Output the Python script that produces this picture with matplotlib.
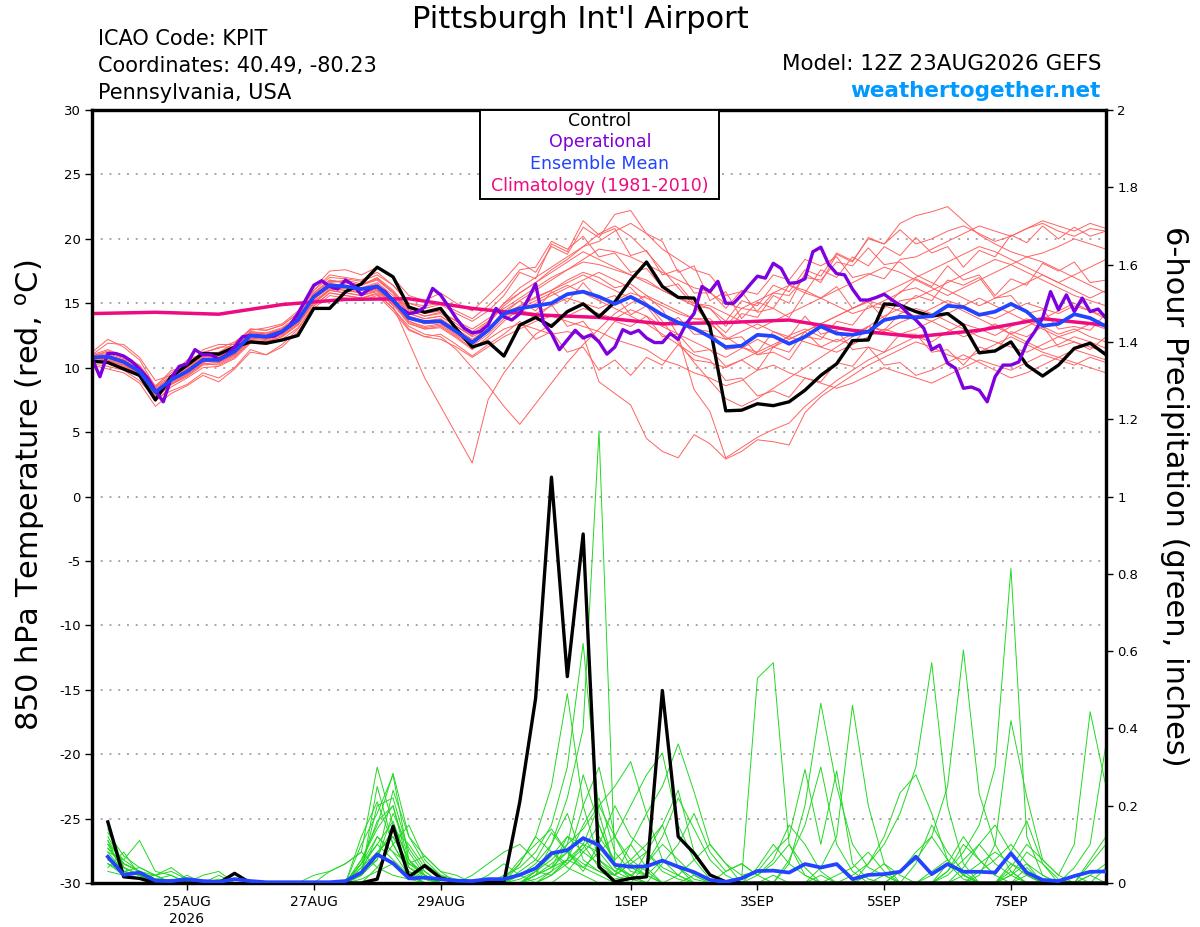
import matplotlib
matplotlib.use("Agg")
import matplotlib.pyplot as plt
from matplotlib.patches import Rectangle

# ---------------- data ----------------
# forecast hours from 12Z 23AUG2026 (6-hourly temperatures, 3-hourly operational)
tick_hours = [36, 84, 132, 204, 252, 300, 348]
tick_labels = ["25AUG\n2026", "27AUG", "29AUG", "1SEP", "3SEP", "5SEP", "7SEP"]

temp_ticks = [-30, -25, -20, -15, -10, -5, 0, 5, 10, 15, 20, 25, 30]
precip_ticks = [0, 0.2, 0.4, 0.6, 0.8, 1.0, 1.2, 1.4, 1.6, 1.8, 2.0]
precip_tick_labels = ["0", "0.2", "0.4", "0.6", "0.8", "1", "1.2", "1.4", "1.6", "1.8", "2"]

control_temp = [
    10.5, 10.4, 9.9, 9.4, 7.5, 9.3, 10.2, 11.1, 11.05, 11.6, 12.0, 11.9, 12.15,
    12.5, 14.6, 14.6, 15.9, 16.5, 17.8, 17.05, 14.7, 14.3, 14.6, 13.0, 11.6, 12.0,
    10.9, 13.3, 13.9, 13.2, 14.35, 14.95, 13.95, 15.1, 16.8, 18.2, 16.3, 15.45, 15.4,
    13.2, 6.65, 6.7, 7.2, 7.05, 7.35, 8.25, 9.4, 10.3, 12.1, 12.15, 14.95, 14.85,
    14.35, 14.0, 14.2, 13.3, 11.15, 11.3, 12.0, 10.2, 9.35, 10.2, 11.5, 11.9, 11.0]

mean_temp = [
    10.8, 10.85, 10.45, 9.7, 8.1, 9.05, 9.7, 10.6, 10.6, 11.25, 12.5, 12.4, 12.8,
    13.7, 15.5, 16.4, 16.3, 16.1, 16.3, 15.25, 13.85, 13.55, 13.6, 12.8, 11.95, 12.9,
    14.2, 14.6, 14.8, 15.0, 15.7, 15.9, 15.5, 14.95, 15.5, 14.85, 14.1, 13.5, 13.05,
    12.4, 11.6, 11.7, 12.55, 12.45, 11.85, 12.4, 13.2, 12.65, 12.55, 12.8, 13.7, 13.95,
    13.9, 14.0, 14.8, 14.7, 14.1, 14.35, 14.95, 14.35, 13.25, 13.4, 14.15, 13.85, 13.2]

operational_temp = [
    10.7, 9.3, 11.1, 11.1, 10.9, 10.5, 9.9, 9.2, 8.2, 7.35, 9.2, 10.1, 10.3, 11.4, 11.0, 11.0,
    10.65, 11.0, 11.6, 12.4, 12.5, 12.45, 12.4, 12.45, 12.8, 13.3, 14.2, 15.3, 16.4, 16.75, 16.3, 16.1,
    16.8, 16.4, 15.65, 16.1, 16.3, 15.9, 15.2, 14.6, 14.2, 14.3, 14.7, 16.15, 15.65, 14.75, 13.8, 13.05,
    12.7, 12.8, 13.3, 14.6, 13.95, 13.7, 14.2, 15.25, 16.5, 13.45, 12.65, 11.4, 12.15, 12.9, 12.3, 12.55,
    12.0, 11.05, 11.6, 12.95, 12.65, 12.9, 12.3, 11.95, 11.95, 12.65, 12.2, 13.4, 14.2, 16.3, 15.9, 16.7,
    15.0, 15.0, 15.65, 16.4, 17.1, 16.95, 18.1, 17.7, 16.55, 16.6, 16.9, 19.0, 19.35, 18.0, 17.3, 17.2,
    16.1, 15.25, 15.25, 15.45, 15.7, 15.25, 14.85, 14.2, 13.7, 13.05, 11.4, 11.75, 10.35, 9.95, 8.4, 8.5,
    8.25, 7.35, 9.3, 10.2, 10.2, 10.45, 11.9, 12.8, 13.85, 15.9, 14.5, 15.65, 14.35, 15.4, 14.35, 14.55,
    13.85]

# daily climatology (1981-2010), one value per day at 12Z
climatology_temp = [14.2, 14.3, 14.15, 14.9, 15.3, 15.35, 14.6, 14.1, 13.9,
                    13.4, 13.5, 13.7, 12.9, 12.4, 12.9, 13.8, 13.3]

temp_members = [
    [10.9, 11.3, 10.9, 10.2, 8.6, 9.6, 10.4, 11.2, 11.5, 12.0, 12.9, 13.1, 13.4,
     14.4, 16.2, 17.5, 17.6, 17.2, 17.8, 17.0, 15.6, 15.2, 15.8, 15.0, 14.4, 15.6,
     16.8, 18.2, 17.4, 19.4, 18.8, 20.9, 20.1, 21.9, 22.2, 20.4, 19.8, 17.4, 17.9,
     15.2, 15.9, 13.8, 15.1, 14.6, 16.4, 15.8, 17.6, 17.0, 18.6, 17.9, 19.4, 18.7,
     20.1, 18.9, 19.4, 17.8, 19.1, 18.6, 20.3, 19.7, 21.0, 20.0, 20.9, 20.2, 20.6],
    [10.6, 10.5, 10.2, 9.4, 7.6, 8.7, 9.4, 10.3, 10.2, 10.8, 12.0, 12.0, 12.4,
     13.4, 15.0, 16.0, 16.2, 15.8, 16.0, 14.8, 12.0, 9.2, 7.0, 4.8, 2.6, 7.5,
     9.6, 11.2, 12.6, 13.4, 14.0, 14.6, 14.2, 13.8, 14.5, 14.0, 13.2, 12.6, 12.0,
     11.4, 10.8, 11.5, 12.2, 11.6, 12.5, 13.0, 12.4, 12.0, 12.6, 13.2, 12.8, 13.5,
     14.0, 13.6, 13.0, 12.4, 12.8, 13.4, 12.6, 12.0, 11.4, 11.8, 12.4, 12.0, 11.5],
    [10.7, 10.9, 10.6, 9.8, 8.2, 9.0, 9.9, 10.8, 10.5, 11.0, 12.3, 12.2, 12.6,
     13.5, 15.2, 16.0, 15.8, 15.6, 16.0, 15.0, 13.5, 13.0, 13.2, 12.4, 11.5, 12.2,
     13.0, 13.4, 13.0, 12.6, 12.8, 12.5, 8.9, 8.0, 7.1, 4.5, 3.5, 3.0, 4.8,
     4.1, 2.9, 3.5, 4.4, 4.25, 4.0, 6.5, 7.75, 8.6, 9.4, 10.2, 10.8, 11.4,
     12.0, 11.6, 11.0, 10.6, 11.2, 11.8, 12.4, 11.8, 11.2, 10.8, 11.4, 11.0, 10.6],
    [10.5, 10.7, 10.3, 9.5, 7.8, 8.8, 9.5, 10.4, 10.8, 11.4, 12.6, 12.5, 12.9,
     13.9, 15.8, 16.8, 16.6, 16.4, 16.9, 15.8, 14.2, 13.8, 14.0, 13.2, 12.4, 13.0,
     14.0, 14.8, 15.5, 16.0, 16.8, 17.4, 17.0, 16.2, 16.5, 15.6, 14.5, 12.5, 8.3,
     6.6, 3.0, 3.8, 4.6, 5.2, 5.7, 7.0, 8.0, 9.0, 9.8, 10.6, 11.2, 11.8,
     12.4, 12.0, 12.8, 13.4, 13.0, 12.5, 13.2, 13.8, 13.2, 12.6, 13.0, 12.4, 12.0],
    [10.8, 11.0, 10.6, 9.9, 8.0, 9.2, 9.8, 10.7, 10.9, 11.5, 12.7, 12.6, 13.0,
     13.9, 15.6, 16.6, 16.8, 16.5, 16.9, 15.9, 14.5, 14.0, 14.3, 13.6, 13.0, 13.8,
     14.6, 15.4, 16.2, 17.0, 17.6, 18.2, 18.0, 17.6, 17.2, 16.8, 16.0, 15.4, 15.0,
     14.6, 13.6, 15.2, 14.8, 16.4, 15.9, 17.6, 17.1, 18.9, 18.3, 20.0, 19.6, 21.2,
     21.8, 22.1, 22.5, 21.4, 20.3, 19.6, 19.0, 18.6, 18.9, 19.4, 20.0, 19.6, 19.2],
    [10.2, 9.9, 9.6, 8.8, 7.0, 8.0, 8.6, 9.4, 8.9, 9.9, 11.2, 11.0, 11.6,
     12.8, 14.6, 15.6, 15.4, 15.2, 15.6, 14.4, 12.9, 12.4, 12.2, 11.6, 10.8, 11.6,
     12.4, 13.0, 13.6, 14.0, 13.6, 13.2, 12.8, 12.2, 11.8, 11.4, 10.6, 10.2, 9.6,
     9.2, 8.6, 9.0, 9.8, 10.2, 9.6, 9.2, 8.8, 8.4, 8.8, 9.4, 10.0, 9.6,
     9.2, 8.8, 9.4, 10.0, 10.6, 10.2, 9.8, 10.4, 11.0, 10.6, 10.2, 10.8, 10.4],
    [11.2, 12.2, 11.6, 10.6, 8.5, 9.8, 10.0, 11.4, 11.8, 11.8, 13.0, 12.9, 13.3,
     14.2, 16.0, 17.2, 17.0, 16.8, 17.4, 16.4, 15.0, 14.6, 14.9, 14.2, 13.6, 14.4,
     15.6, 17.4, 16.9, 19.6, 19.0, 21.4, 20.3, 20.8, 18.7, 19.1, 17.2, 17.6, 15.8,
     15.8, 15.0, 14.6, 15.2, 15.8, 16.4, 16.0, 15.4, 14.8, 14.2, 14.6, 15.2, 15.8,
     16.9, 16.3, 17.9, 16.8, 17.2, 15.6, 16.9, 16.4, 18.1, 17.5, 18.2, 16.6, 16.8],
    [10.6, 10.8, 10.4, 9.6, 8.0, 9.0, 9.6, 10.5, 10.4, 11.0, 12.3, 12.2, 12.6,
     13.6, 15.3, 16.2, 16.0, 15.8, 16.2, 15.0, 13.6, 13.2, 13.4, 12.6, 11.8, 12.8,
     14.0, 14.4, 14.2, 14.8, 15.4, 15.0, 14.6, 15.2, 15.8, 15.4, 14.8, 14.2, 13.8,
     13.8, 12.7, 14.2, 13.9, 15.6, 15.0, 17.3, 16.6, 18.8, 18.2, 20.1, 19.6, 20.7,
     19.6, 20.0, 20.6, 21.0, 20.4, 19.8, 20.2, 20.8, 21.2, 20.6, 20.2, 20.8, 20.6],
    [10.3, 10.1, 9.8, 9.0, 7.6, 8.2, 8.7, 9.6, 9.2, 10.0, 11.4, 11.0, 11.8,
     13.0, 14.8, 15.8, 15.6, 15.4, 15.7, 14.6, 13.0, 12.4, 12.6, 11.8, 10.9, 11.8,
     12.6, 13.6, 12.2, 12.8, 11.2, 11.6, 9.8, 10.6, 9.4, 10.8, 10.2, 11.8, 10.6,
     10.4, 10.0, 10.6, 11.2, 11.8, 12.4, 12.0, 11.6, 11.2, 11.8, 12.4, 13.0, 12.6,
     12.6, 11.2, 11.4, 10.2, 11.6, 11.2, 12.8, 12.4, 13.2, 11.6, 12.0, 11.4, 12.4],
    [11.0, 11.9, 11.8, 10.8, 9.0, 9.4, 10.6, 11.1, 11.6, 11.6, 12.8, 12.7, 13.1,
     14.0, 15.8, 16.8, 16.6, 16.4, 17.0, 16.0, 14.6, 14.2, 14.4, 13.6, 12.8, 13.6,
     15.0, 16.2, 17.0, 17.8, 18.6, 19.4, 19.8, 20.6, 21.2, 20.4, 19.2, 18.4, 17.6,
     17.2, 15.6, 15.9, 14.3, 14.6, 13.9, 15.8, 15.4, 16.3, 14.6, 15.1, 13.8, 15.2,
     15.4, 16.0, 16.6, 17.2, 17.8, 18.4, 18.0, 17.4, 16.8, 16.2, 15.6, 15.2, 14.8],
    [10.7, 10.6, 10.3, 9.6, 7.9, 8.9, 9.6, 10.4, 10.7, 11.2, 12.4, 12.3, 12.7,
     13.7, 15.4, 16.3, 16.2, 16.0, 16.4, 15.4, 14.0, 13.6, 13.8, 13.0, 12.2, 13.0,
     14.2, 15.2, 14.4, 15.9, 15.1, 16.6, 15.2, 15.6, 14.1, 14.8, 13.2, 13.9, 12.6,
     12.6, 12.2, 12.8, 13.4, 12.8, 12.2, 12.8, 13.4, 14.0, 14.6, 15.2, 14.8, 14.4,
     14.0, 14.6, 15.2, 14.8, 14.2, 13.8, 14.4, 15.0, 14.6, 14.2, 14.8, 14.4, 14.0],
    [10.5, 10.6, 10.1, 9.4, 7.7, 8.7, 9.3, 10.2, 10.3, 10.9, 12.1, 12.0, 12.4,
     13.3, 15.0, 16.0, 15.8, 15.6, 15.9, 14.9, 13.4, 13.0, 13.1, 12.3, 11.4, 12.4,
     13.6, 14.6, 13.8, 14.9, 13.2, 13.6, 12.1, 13.6, 13.2, 14.0, 12.4, 12.6, 11.2,
     11.4, 10.1, 10.6, 9.8, 11.6, 11.2, 12.8, 11.6, 12.2, 11.8, 13.2, 12.9, 14.2,
     14.6, 14.2, 13.6, 13.0, 12.4, 12.0, 11.6, 11.2, 11.8, 12.4, 12.0, 11.6, 11.2],
    [10.9, 11.1, 10.7, 10.0, 8.3, 9.3, 10.0, 10.9, 11.0, 11.7, 12.8, 12.6, 13.0,
     13.8, 15.5, 16.5, 16.4, 16.2, 16.6, 15.6, 14.2, 13.8, 14.0, 13.2, 12.5, 13.4,
     14.8, 15.8, 16.6, 17.6, 18.4, 19.4, 20.4, 21.0, 20.2, 19.0, 17.6, 16.2, 14.8,
     13.4, 12.4, 11.6, 11.0, 11.6, 12.2, 12.8, 13.4, 14.0, 14.6, 15.2, 15.8, 16.4,
     17.0, 17.6, 18.2, 18.8, 19.4, 19.0, 18.4, 17.8, 17.2, 16.6, 17.2, 17.8, 18.4],
    [10.6, 10.9, 10.5, 9.7, 8.1, 9.1, 9.8, 10.6, 10.5, 11.1, 12.4, 12.3, 12.7,
     13.6, 15.4, 16.4, 16.3, 16.1, 16.5, 15.3, 13.8, 13.4, 13.5, 12.7, 11.9, 12.9,
     14.0, 14.6, 15.2, 15.8, 16.4, 15.8, 15.2, 14.6, 14.0, 13.4, 12.6, 11.8, 11.0,
     10.6, 9.0, 9.2, 7.8, 8.2, 7.7, 9.2, 8.9, 10.4, 10.1, 11.6, 11.2, 12.6,
     13.0, 13.6, 14.2, 14.8, 15.4, 14.8, 14.2, 13.6, 13.0, 12.4, 12.8, 13.4, 13.0],
    [10.8, 11.0, 10.5, 9.8, 8.2, 9.0, 9.7, 10.6, 10.7, 11.3, 12.6, 12.5, 12.9,
     13.8, 15.6, 16.5, 16.4, 16.2, 16.4, 15.4, 14.0, 13.6, 13.7, 12.9, 12.1, 13.0,
     14.4, 15.2, 16.0, 16.8, 17.6, 18.4, 19.2, 19.0, 18.6, 18.0, 17.4, 16.8, 16.2,
     15.9, 14.6, 16.0, 15.7, 17.2, 16.8, 18.4, 17.9, 18.6, 17.0, 17.3, 16.9, 18.4,
     18.6, 19.2, 19.8, 20.4, 21.0, 20.6, 20.2, 20.8, 21.4, 21.0, 20.6, 21.2, 20.8],
    [10.7, 10.8, 10.4, 9.7, 8.0, 9.1, 9.7, 10.5, 10.6, 11.2, 12.5, 12.4, 12.8,
     13.7, 15.5, 16.4, 16.3, 16.1, 16.3, 15.2, 13.8, 13.5, 13.6, 12.8, 12.0, 12.9,
     14.2, 14.8, 15.4, 16.0, 16.6, 17.2, 16.6, 16.0, 15.4, 14.8, 14.2, 13.6, 13.0,
     12.8, 11.4, 11.6, 11.2, 12.8, 12.4, 14.0, 12.6, 12.9, 11.4, 11.6, 10.2, 10.4,
     9.4, 9.8, 10.4, 11.0, 10.4, 9.8, 9.2, 9.6, 10.2, 10.8, 10.4, 10.0, 9.6],
    [11.0, 11.4, 10.9, 10.1, 8.5, 9.4, 10.1, 11.0, 11.2, 11.9, 13.0, 12.9, 13.3,
     14.2, 16.0, 17.0, 16.9, 16.7, 17.2, 16.4, 15.0, 14.8, 15.0, 14.4, 13.8, 14.8,
     16.0, 17.6, 17.8, 19.8, 19.2, 20.2, 18.6, 18.9, 17.4, 17.7, 16.2, 16.5, 15.0,
     14.8, 14.2, 13.6, 13.0, 13.6, 14.2, 14.8, 15.4, 16.0, 16.6, 17.2, 17.8, 17.4,
     16.8, 16.2, 15.6, 16.2, 16.8, 17.4, 18.0, 18.6, 18.2, 17.6, 17.0, 16.4, 15.8],
    [10.4, 10.5, 10.2, 9.5, 7.6, 8.8, 9.4, 10.3, 10.4, 11.0, 12.2, 12.1, 12.5,
     13.4, 15.1, 16.1, 16.0, 15.8, 16.1, 15.0, 13.6, 13.1, 13.3, 12.5, 11.7, 12.6,
     13.8, 14.4, 15.0, 15.6, 16.2, 16.8, 17.4, 16.8, 16.2, 15.0, 13.6, 12.0, 10.4,
     9.0, 7.6, 7.0, 7.6, 8.4, 9.2, 10.0, 10.8, 11.6, 12.4, 13.2, 14.0, 14.6,
     15.6, 15.2, 16.8, 16.4, 17.0, 15.4, 15.6, 14.2, 14.5, 13.0, 13.2, 12.9, 14.2],
    [10.9, 11.2, 10.8, 10.0, 8.4, 9.3, 9.9, 10.8, 10.9, 11.5, 12.7, 12.6, 13.0,
     13.9, 15.7, 16.7, 16.6, 16.4, 16.8, 15.8, 14.4, 14.0, 14.2, 13.4, 12.6, 13.5,
     15.0, 15.8, 16.6, 17.4, 18.2, 19.0, 18.4, 17.8, 17.2, 16.6, 16.0, 15.4, 14.8,
     14.6, 13.2, 14.6, 14.4, 15.8, 15.6, 17.0, 16.8, 18.2, 17.9, 19.3, 18.0, 18.2,
     17.2, 16.6, 16.0, 15.4, 14.8, 15.4, 16.0, 16.6, 17.2, 16.6, 16.0, 15.4, 16.0],
    [10.5, 10.4, 10.0, 9.3, 7.4, 8.5, 9.2, 10.0, 10.1, 10.7, 11.9, 11.8, 12.2,
     13.1, 14.8, 15.8, 15.6, 15.4, 15.8, 14.6, 13.2, 12.6, 12.4, 11.4, 10.0, 8.6,
     7.0, 5.6, 7.2, 8.8, 10.4, 11.8, 13.0, 14.2, 15.0, 15.6, 15.0, 14.4, 13.8,
     13.6, 12.2, 12.4, 11.0, 11.2, 10.6, 12.4, 12.2, 13.6, 13.3, 14.8, 14.6, 15.9,
     16.2, 15.6, 15.0, 14.4, 13.8, 13.2, 12.6, 13.2, 13.8, 14.4, 15.0, 14.4, 13.8],
]

# 6-hour precipitation (inches), valid 18Z 23AUG .. 12Z 8SEP
control_precip = [
    .158, .016, .012, 0, 0, 0, 0, 0, .025, 0, 0, 0, 0, 0, 0, 0,
    0, .01, .147, .016, .045, .013, .003, .003, .003, .003, .21, .478, 1.05, .534, .903, .042,
    .003, .012, .016, .498, .12, .077, .021, .003, 0, 0, 0, 0, 0, 0, 0, 0,
    0, 0, 0, 0, 0, 0, 0, 0, 0, 0, 0, 0, 0, 0, 0, 0]

mean_precip = [
    .068, .021, .027, .006, .005, .01, .005, .003, .01, .005, .002, .002, .002, .002, .002, .005,
    .027, .074, .051, .012, .014, .01, .006, .005, .01, .01, .021, .038, .077, .085, .116, .098,
    .047, .042, .043, .058, .042, .028, .008, .003, .012, .031, .032, .027, .049, .04, .049, .01,
    .021, .023, .029, .068, .023, .049, .029, .029, .027, .077, .027, .008, .005, .018, .029, .03]

precip_members = [
    [.12, .05, .03, 0, 0, .01, 0, 0, 0, 0, 0, 0, 0, 0, 0, 0,
     .05, .12, .08, .02, 0, 0, 0, 0, 0, 0, .02, .05, .10, .22, .40, 1.17,
     .05, .01, 0, 0, 0, 0, 0, 0, 0, .02, .05, .10, .04, 0, 0, 0,
     0, 0, 0, 0, .02, .05, .01, 0, 0, .03, 0, 0, 0, 0, .02, 0],
    [.08, .03, .02, .01, 0, 0, 0, .02, 0, 0, 0, 0, 0, 0, 0, 0,
     .02, .25, .10, .03, .01, 0, 0, 0, 0, .01, .05, .12, .25, .49, .20, .06,
     .02, .10, .04, 0, 0, 0, 0, 0, 0, 0, .02, 0, 0, .04, .12, .46,
     .20, .05, 0, 0, 0, 0, 0, 0, 0, .02, .05, 0, 0, 0, 0, 0],
    [.10, .06, .11, .03, .02, 0, 0, 0, 0, 0, 0, 0, 0, 0, 0, 0,
     .10, .18, .28, .06, .02, 0, 0, 0, 0, .02, .04, .08, .15, .30, .62, .18,
     .04, .02, 0, 0, 0, 0, 0, 0, .01, .53, .57, .10, .02, 0, 0, 0,
     0, .02, 0, 0, .03, .06, .02, 0, 0, 0, .04, 0, 0, 0, .05, .10],
    [.05, .02, .01, .02, .04, .01, 0, 0, 0, 0, 0, 0, 0, 0, 0, 0,
     .06, .15, .284, .12, .07, .03, 0, 0, 0, 0, 0, .03, .06, .10, .14, .20,
     .25, .314, .18, .06, .02, 0, 0, 0, 0, 0, 0, .06, .15, .30, .10, .03,
     0, 0, 0, .05, .15, .08, .03, 0, 0, 0, 0, 0, 0, .02, 0, 0],
    [.14, .04, .02, 0, 0, 0, 0, .01, 0, 0, 0, 0, 0, 0, .03, .05,
     .08, .04, .02, .01, 0, 0, 0, 0, 0, 0, .02, .04, .08, .05, .10, .20,
     .12, .20, .28, .336, .15, .06, .01, 0, 0, 0, 0, 0, 0, 0, 0, .02,
     .05, .10, .18, .30, .57, .20, .05, 0, 0, 0, .02, 0, 0, 0, 0, 0],
    [.07, .03, .04, .02, 0, 0, 0, 0, 0, 0, 0, 0, 0, 0, 0, 0,
     .03, .20, .22, .08, .02, 0, 0, 0, 0, 0, 0, .02, .05, .08, .04, .02,
     0, 0, .05, .10, .06, .02, 0, 0, 0, 0, 0, 0, 0, 0, 0, 0,
     0, 0, .03, .06, .12, .25, .603, .23, .10, .03, 0, 0, 0, 0, 0, 0],
    [.09, .05, .03, .01, 0, .02, 0, 0, 0, 0, 0, 0, 0, 0, 0, 0,
     .12, .21, .10, .03, 0, 0, 0, 0, 0, 0, 0, .01, .03, .06, .10, .08,
     .03, .01, .08, .15, .04, 0, 0, 0, 0, 0, 0, 0, 0, 0, 0, 0,
     0, 0, 0, 0, 0, .03, .08, .15, .30, .814, .12, .02, 0, 0, 0, 0],
    [.11, .02, .01, 0, 0, 0, 0, 0, 0, 0, 0, 0, 0, 0, 0, 0,
     .04, .10, .16, .05, .02, 0, 0, 0, 0, 0, .03, .06, .04, .12, .08, .05,
     .02, .05, .02, 0, 0, .02, 0, 0, 0, 0, 0, 0, 0, 0, 0, 0,
     0, 0, 0, 0, 0, 0, 0, .02, .10, .42, .223, .06, .02, .10, .443, .25],
    [.06, .04, .02, 0, .01, 0, 0, 0, 0, 0, 0, 0, 0, .02, .03, .05,
     .08, .30, .15, .06, .02, 0, 0, 0, 0, 0, 0, .02, .04, .08, .12, .06,
     .03, .06, .10, .15, .24, .08, .02, 0, 0, 0, 0, .05, .20, .465, .25, .10,
     .04, .02, 0, 0, 0, 0, 0, 0, 0, 0, 0, 0, 0, 0, 0, 0],
    [.04, .08, .02, 0, 0, 0, 0, 0, 0, 0, 0, 0, 0, 0, 0, 0,
     .02, .08, .12, .05, .07, .03, .02, 0, 0, .01, .06, .10, .14, .08, .05, .03,
     .02, 0, 0, 0, 0, 0, 0, 0, 0, 0, 0, 0, 0, 0, 0, 0,
     0, 0, 0, 0, 0, 0, .02, .05, .08, .05, .02, 0, 0, .04, .10, .36],
    [.10, .03, .02, .02, 0, 0, 0, 0, 0, 0, 0, 0, 0, 0, 0, 0,
     .03, .06, .18, .09, .03, 0, 0, 0, 0, 0, .01, .03, .02, .06, .20, .30,
     .12, .04, .02, 0, 0, 0, 0, 0, 0, 0, 0, 0, 0, .02, 0, 0,
     .05, .12, .233, .28, .18, .06, .02, 0, 0, 0, 0, 0, 0, 0, 0, 0],
    [.03, .02, .01, 0, 0, 0, 0, 0, 0, 0, 0, 0, 0, 0, 0, 0,
     .05, .10, .06, .02, 0, 0, 0, 0, .02, .05, .02, 0, 0, .03, .08, .12,
     .06, .10, .18, .25, .36, .236, .10, .05, 0, 0, 0, 0, 0, 0, 0, 0,
     0, 0, 0, 0, 0, .02, .06, .10, .15, .08, .02, 0, 0, 0, 0, 0],
    [.08, .06, .03, .01, 0, 0, 0, 0, 0, 0, 0, 0, 0, 0, 0, 0,
     .06, .14, .20, .04, .01, 0, 0, 0, 0, 0, 0, 0, .02, .05, .09, .15,
     .04, .02, 0, 0, .02, .06, .10, .05, .02, .03, .08, .12, .294, .10, .29, .05,
     .01, 0, 0, 0, 0, 0, 0, 0, 0, .02, .08, .05, .01, 0, 0, 0],
    [.13, .07, .04, .02, .03, .01, 0, 0, 0, 0, 0, 0, 0, 0, 0, 0,
     .02, .06, .24, .12, .05, .02, .01, 0, 0, 0, 0, .02, .10, .18, .06, .03,
     .01, .02, .05, .12, .22, .14, .06, .02, 0, 0, 0, 0, 0, 0, 0, 0,
     .02, .05, .02, 0, 0, 0, 0, .03, .06, .10, .05, .02, 0, 0, 0, .04],
    [.06, .03, .02, 0, 0, 0, .02, .03, 0, 0, 0, 0, 0, 0, 0, 0,
     .01, .03, .05, .02, 0, 0, 0, .02, .05, .08, .10, .06, .13, .08, .03, .10,
     .20, .12, .08, .04, .02, 0, 0, 0, 0, 0, 0, 0, 0, 0, 0, 0,
     0, 0, .03, .08, .12, .06, .02, 0, 0, .04, .10, .06, .02, 0, .02, .05],
    [.15, .04, .02, .01, 0, 0, 0, 0, 0, 0, 0, 0, 0, 0, 0, 0,
     .04, .08, .12, .04, .02, 0, 0, 0, 0, 0, 0, 0, .03, .10, .28, .15,
     .05, .02, 0, 0, 0, 0, 0, 0, 0, 0, 0, 0, 0, 0, 0, 0,
     0, 0, 0, 0, 0, 0, 0, 0, 0, 0, 0, 0, 0, 0, 0, 0],
    [.07, .02, .01, 0, 0, 0, 0, 0, 0, 0, 0, 0, 0, 0, 0, 0,
     0, .04, .10, .15, .06, .02, 0, 0, 0, 0, .05, .12, .08, .04, .02, 0,
     0, 0, 0, .05, .10, .18, .08, .03, .05, .02, 0, 0, 0, 0, 0, 0,
     0, 0, 0, 0, 0, 0, .04, .10, .05, .02, 0, 0, 0, 0, .06, .12],
    [.09, .04, .02, 0, 0, 0, 0, 0, 0, 0, 0, 0, 0, 0, 0, 0,
     .03, .12, .08, .05, .03, 0, 0, 0, 0, 0, 0, .03, .07, .12, .10, .04,
     .02, .05, .08, .03, .01, 0, 0, .03, .05, .02, .06, .15, .10, .03, 0, 0,
     0, 0, 0, 0, 0, 0, 0, 0, 0, .05, .03, 0, 0, 0, 0, 0],
    [.05, .03, .02, .01, .02, 0, 0, 0, 0, 0, 0, 0, 0, 0, 0, 0,
     .02, .07, .14, .10, .04, .01, 0, 0, 0, 0, 0, 0, .02, .06, .04, .08,
     .12, .06, .03, 0, 0, 0, 0, 0, 0, 0, 0, 0, 0, 0, .02, .04,
     .08, .03, 0, 0, 0, .03, .10, .06, .02, 0, 0, 0, 0, 0, 0, 0],
    [.11, .05, .03, .02, 0, 0, 0, 0, 0, 0, 0, 0, 0, 0, 0, 0,
     .05, .16, .20, .06, .01, 0, 0, 0, 0, 0, 0, .02, .04, .06, .15, .22,
     .08, .03, .02, .06, .04, .01, 0, 0, 0, .04, .10, .05, .02, 0, 0, 0,
     0, 0, 0, 0, 0, .05, .12, .06, .02, .08, .16, .05, 0, 0, 0, 0],
]

# ---------------- x positions (forecast hours) ----------------
hours_6h = [6 * i for i in range(len(control_temp))]
hours_3h = [3 * i for i in range(len(operational_temp))]
hours_daily = [24 * i for i in range(len(climatology_temp))]
hours_precip = [6 * (i + 1) for i in range(len(control_precip))]

# ---------------- figure ----------------
W, H = 1200, 927
fig = plt.figure(figsize=(W / 100, H / 100), dpi=100)
L, R, T, B = 92, 1106, 110, 883
ax = fig.add_axes([L / W, 1 - B / H, (R - L) / W, (B - T) / H])
ax2 = ax.twinx()

RED = "#ff6262"
GREEN = "#22d822"
PURPLE = "#7f00df"
BLUE = "#2244ff"
PINK = "#ee0a80"

for v in temp_ticks[1:-1]:
    ax.axhline(v, color="#a8a8a8", lw=1.4, ls=(0, (1, 3.5)), zorder=0.5)

for m in temp_members:
    ax.plot(hours_6h, m, color=RED, lw=0.7, zorder=1)
ax.plot(hours_daily, climatology_temp, color=PINK, lw=2.5, zorder=3, solid_joinstyle="round")
ax.plot(hours_6h, control_temp, color="black", lw=2.4, zorder=4)
ax.plot(hours_3h, operational_temp, color=PURPLE, lw=2.4, zorder=5)
ax.plot(hours_6h, mean_temp, color=BLUE, lw=2.7, zorder=6)

for m in precip_members:
    ax2.plot(hours_precip, m, color=GREEN, lw=0.7, zorder=1)
ax2.plot(hours_precip, control_precip, color="black", lw=2.4, zorder=4)
ax2.plot(hours_precip, mean_precip, color=BLUE, lw=2.7, zorder=5)

ax.set_xlim(0, 384)
ax.set_ylim(-30, 30)
ax2.set_ylim(0, 2)

ax.set_xticks(tick_hours)
ax.set_xticklabels(tick_labels, fontsize=10, linespacing=1.25)
ax.set_yticks(temp_ticks)
ax.set_yticklabels([str(v) for v in temp_ticks], fontsize=9.5)
ax2.set_yticks(precip_ticks)
ax2.set_yticklabels(precip_tick_labels, fontsize=9.5)

ax.tick_params(axis="both", direction="out", length=5, width=1, pad=3)
ax.tick_params(axis="x", pad=4)
ax2.tick_params(axis="y", direction="out", length=5, width=1, pad=3)
for a in (ax, ax2):
    for s in a.spines.values():
        s.set_linewidth(2.3)

# legend box
ax2.add_patch(Rectangle((0.383, 0.885), 0.235, 0.115, transform=ax2.transAxes,
                        facecolor="white", edgecolor="black", lw=1.4,
                        zorder=10, clip_on=False))
leg_items = [("Control", "black", 121), ("Operational", PURPLE, 142),
             ("Ensemble Mean", BLUE, 164), ("Climatology (1981-2010)", PINK, 186)]
for txt, col, yy in leg_items:
    fig.text(600 / W, 1 - yy / H, txt, color=col, fontsize=12.5,
             ha="center", va="center", zorder=12)

# header texts
fig.text(580 / W, 1 - 28 / H, "Pittsburgh Int'l Airport", fontsize=22,
         ha="center", va="baseline")
fig.text(98 / W, 1 - 45 / H, "ICAO Code: KPIT", fontsize=15, ha="left", va="baseline")
fig.text(98 / W, 1 - 72 / H, "Coordinates: 40.49, -80.23", fontsize=15, ha="left", va="baseline")
fig.text(98 / W, 1 - 99 / H, "Pennsylvania, USA", fontsize=15, ha="left", va="baseline")
fig.text(1101 / W, 1 - 70 / H, "Model: 12Z 23AUG2026 GEFS", fontsize=15.5,
         ha="right", va="baseline")
fig.text(1101 / W, 1 - 97 / H, "weathertogether.net", fontsize=15.5, fontweight="bold",
         color="#0099ff", ha="right", va="baseline")

# axis titles
fig.text(30 / W, 1 - 495 / H, "850 hPa Temperature (red, $^\\mathrm{o}$C)", fontsize=22,
         rotation=90, ha="center", va="center")
fig.text(1175 / W, 1 - 496 / H, "6-hour Precipitation (green, inches)", fontsize=22,
         rotation=270, ha="center", va="center")

fig.savefig("out.png", dpi=100)
